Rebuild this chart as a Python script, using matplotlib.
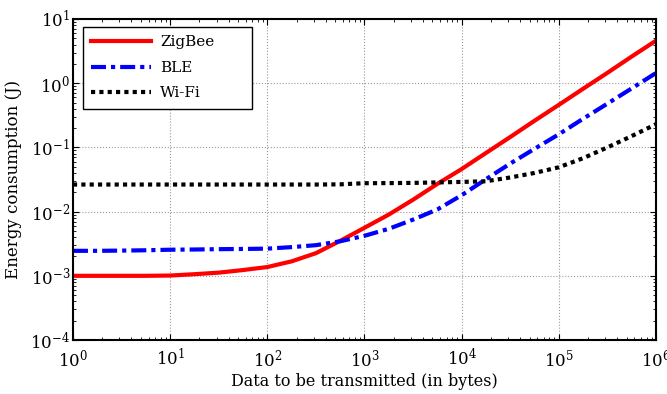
import matplotlib
matplotlib.use("Agg")
import matplotlib.pyplot as plt
from matplotlib.ticker import LogLocator, NullFormatter

x_bytes = [1, 1.78, 3.16, 5.62, 10, 17.8, 31.6, 56.2, 100, 178, 316, 562,
           1e3, 1780, 3160, 5620, 1e4, 1.78e4, 3.16e4, 5.62e4, 1e5, 1.78e5,
           3.16e5, 5.62e5, 1e6]
zigbee = [1.0e-3, 1.0e-3, 1.0e-3, 1.0e-3, 1.01e-3, 1.06e-3, 1.12e-3, 1.23e-3,
          1.37e-3, 1.68e-3, 2.25e-3, 3.5e-3, 5.6e-3, 9.0e-3, 0.0153, 0.027,
          0.046, 0.082, 0.145, 0.26, 0.46, 0.82, 1.45, 2.6, 4.6]
ble = [2.45e-3, 2.45e-3, 2.47e-3, 2.5e-3, 2.55e-3, 2.57e-3, 2.6e-3, 2.62e-3,
       2.65e-3, 2.8e-3, 3.0e-3, 3.45e-3, 4.2e-3, 5.4e-3, 7.5e-3, 0.0108,
       0.018, 0.032, 0.056, 0.095, 0.16, 0.28, 0.48, 0.83, 1.44]
wifi = [0.0264, 0.0264, 0.0264, 0.0264, 0.0264, 0.0264, 0.0264, 0.0264,
        0.0264, 0.0264, 0.0264, 0.0266, 0.0277, 0.0278, 0.028, 0.0285,
        0.029, 0.0297, 0.034, 0.04, 0.049, 0.068, 0.1, 0.15, 0.23]

series_names = ['ZigBee', 'BLE', 'Wi-Fi']

plt.rcParams['font.family'] = ['DejaVu Serif']
plt.rcParams['mathtext.fontset'] = 'dejavuserif'

fig = plt.figure(figsize=(6.67, 3.94), dpi=100)
ax = fig.add_axes([0.1094, 0.137, 0.8741, 0.8148])

ax.plot(x_bytes, zigbee, color='#ff0000', lw=3, ls='-', label=series_names[0])
ax.plot(x_bytes, ble, color='#0000ff', lw=3, ls=(0, (3.6, 1.2, 1, 1.2)),
        label=series_names[1])
ax.plot(x_bytes, wifi, color='black', lw=3, ls=(0, (1, 1)), label=series_names[2])

ax.set_xscale('log')
ax.set_yscale('log')
ax.set_xlim(1, 1e6)
ax.set_ylim(1e-4, 10)
ax.xaxis.set_major_locator(LogLocator(base=10, numticks=10))
ax.yaxis.set_major_locator(LogLocator(base=10, numticks=10))
ax.xaxis.set_minor_locator(LogLocator(base=10, subs=range(2, 10), numticks=20))
ax.yaxis.set_minor_locator(LogLocator(base=10, subs=range(2, 10), numticks=20))
ax.xaxis.set_minor_formatter(NullFormatter())
ax.yaxis.set_minor_formatter(NullFormatter())

ax.tick_params(which='both', direction='in', top=True, right=True, labelsize=12)
ax.tick_params(which='major', length=4, width=0.8)
ax.tick_params(which='minor', length=2, width=0.6)
ax.tick_params(axis='x', pad=6)
ax.tick_params(axis='y', pad=2)
for s in ax.spines.values():
    s.set_linewidth(1.5)

ax.grid(True, which='major', color='#999999', ls=':', lw=0.8)

ax.set_xlabel('Data to be transmitted (in bytes)', fontsize=11.5, labelpad=2)
ax.set_ylabel('Energy consumption (J)', fontsize=12, labelpad=6)

leg = ax.legend(loc='upper left', bbox_to_anchor=(0.0172, 0.5, 0.29, 0.475),
                mode='expand', fontsize=11, frameon=True, fancybox=False,
                edgecolor='black', framealpha=1, handlelength=3.9,
                borderpad=0.55, labelspacing=0.75, handletextpad=0.6,
                borderaxespad=0)
leg.get_frame().set_linewidth(1.0)

fig.savefig('out.png', dpi=100)
